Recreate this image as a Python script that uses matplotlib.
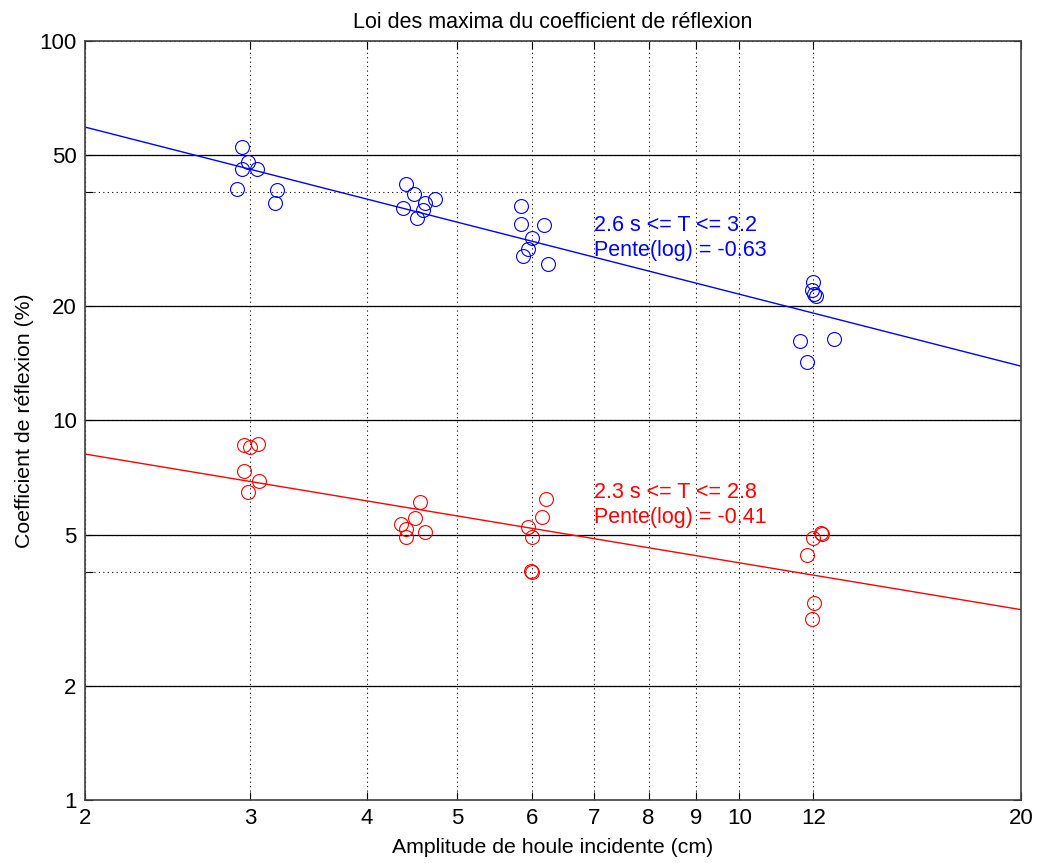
import numpy as np
import matplotlib
matplotlib.use('Agg')
import matplotlib.pyplot as plt

plt.rcParams['font.family'] = ['Liberation Sans', 'DejaVu Sans']

# period 2.6 s <= T <= 3.2 (blue)
amp_blue = [2.94, 2.99, 2.94, 3.05, 2.91, 3.21, 3.19,
            4.40, 4.49, 4.73, 4.37, 4.62, 4.59, 4.53,
            5.84, 5.84, 6.19, 6.00, 5.95, 5.88, 6.25,
            11.99, 11.96, 12.03, 12.08, 11.62, 12.61, 11.82]
coef_blue = [52.6, 48.0, 46.0, 46.0, 40.7, 40.5, 37.4,
             42.1, 39.6, 38.3, 36.3, 37.5, 35.9, 34.1,
             36.8, 33.0, 32.8, 30.3, 28.3, 27.1, 25.8,
             23.2, 22.1, 21.6, 21.3, 16.2, 16.4, 14.3]

# period 2.3 s <= T <= 2.8 (red)
amp_red = [2.96, 3.00, 3.06, 2.96, 3.07, 2.99,
           4.56, 4.50, 4.35, 4.41, 4.62, 4.40,
           6.22, 6.15, 5.94, 6.00, 5.99, 6.00,
           12.22, 12.25, 12.00, 11.82, 12.02, 11.97]
coef_red = [8.62, 8.54, 8.66, 7.37, 6.94, 6.47,
            6.10, 5.53, 5.33, 5.17, 5.08, 4.92,
            6.20, 5.58, 5.23, 4.92, 4.01, 3.99,
            5.04, 5.02, 4.89, 4.43, 3.31, 3.00]

# power-law fits  coef = k * amp ** slope
slope_blue, k_blue = -0.63, 91.8
slope_red, k_red = -0.41, 10.84

label_blue = ['2.6 s <= T <= 3.2', 'Pente(log) = -0.63']
label_red = ['2.3 s <= T <= 2.8', 'Pente(log) = -0.41']

xticks = [2, 3, 4, 5, 6, 7, 8, 9, 10, 12, 20]
yticks = [1, 2, 4, 5, 10, 20, 40, 50, 100]
ylabels = ['1', '2', '', '5', '10', '20', '', '50', '100']
solid_levels = [2, 5, 10, 20, 50]

fig = plt.figure(figsize=(10.39, 8.63), dpi=100)
ax = fig.add_axes([0.0818, 0.0730, 0.9009, 0.8795])
ax.set_xscale('log')
ax.set_yscale('log')
ax.set_xlim(2, 20)
ax.set_ylim(1, 100)

ax.set_xticks(xticks)
ax.set_xticklabels([str(t) for t in xticks])
ax.set_yticks(yticks)
ax.set_yticklabels(ylabels)
ax.minorticks_off()
ax.tick_params(direction='in', top=True, right=True, length=6, width=0.8,
               labelsize=16, pad=6)
ax.grid(True, linestyle=(0, (1, 3)), color='black', linewidth=0.8)
for lv in solid_levels:
    ax.axhline(lv, color='black', linewidth=0.9, zorder=1.5)

for s in ax.spines.values():
    s.set_color('#404040')
    s.set_linewidth(1.2)

xx = np.array([2, 20])
ax.plot(xx, k_blue * xx ** slope_blue, color='blue', linewidth=1)
ax.plot(xx, k_red * xx ** slope_red, color='red', linewidth=1)
ax.plot(amp_blue, coef_blue, 'o', mfc='none', mec='blue', ms=10, mew=0.8)
ax.plot(amp_red, coef_red, 'o', mfc='none', mec='red', ms=10, mew=0.8)

ax.text(7.0, 32.6, label_blue[0], color='blue', fontsize=15.5, va='center')
ax.text(7.0, 28.0, label_blue[1], color='blue', fontsize=15.5, va='center')
ax.text(7.0, 6.48, label_red[0], color='red', fontsize=15.5, va='center')
ax.text(7.0, 5.56, label_red[1], color='red', fontsize=15.5, va='center')

ax.set_title('Loi des maxima du coefficient de réflexion', fontsize=15.5, pad=9)
ax.set_xlabel('Amplitude de houle incidente (cm)', fontsize=15.3, labelpad=6)
ax.set_ylabel('Coefficient de réflexion (%)', fontsize=15.3, labelpad=4)

fig.savefig('out.png', dpi=100)
